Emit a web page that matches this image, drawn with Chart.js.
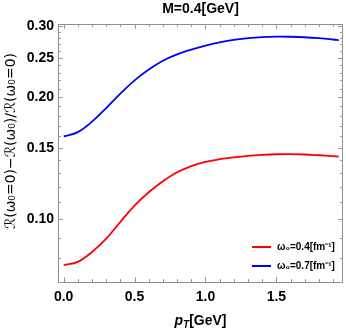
<!DOCTYPE html>
<html>
<head>
<meta charset="utf-8">
<script src="https://cdn.jsdelivr.net/npm/chart.js@4.4.1/dist/chart.umd.min.js"></script>
<style>
  html, body { margin: 0; padding: 0; background: #fff; }
  #wrap { width: 346px; height: 331px; }
</style>
</head>
<body>
<div id="wrap"><canvas id="ratioChart" width="346" height="331"></canvas></div>
<script>
// p_T values [GeV]
const pT = [0, 0.1, 0.2, 0.3, 0.4, 0.5, 0.6, 0.7, 0.8, 0.9, 1.0, 1.1, 1.2, 1.3, 1.4, 1.5, 1.6, 1.7, 1.8, 1.9, 1.94];
// omega0 = 0.4 fm^-1
const ratioW04 = [0.077, 0.0785, 0.083, 0.0895, 0.0985, 0.108, 0.1165, 0.124, 0.1305, 0.1352, 0.1385, 0.1406, 0.1421, 0.1433, 0.1441, 0.1446, 0.1447, 0.1444, 0.1438, 0.1431, 0.1427];
// omega0 = 0.7 fm^-1
const ratioW07 = [0.160, 0.164, 0.174, 0.188, 0.204, 0.220, 0.234, 0.246, 0.255, 0.262, 0.268, 0.273, 0.277, 0.2795, 0.2812, 0.282, 0.2818, 0.281, 0.2795, 0.2775, 0.2765];

const xTicks = [0, 0.5, 1.0, 1.5];
const yTicks = [0.10, 0.15, 0.20, 0.25, 0.30];
const xMinorTicks = [0.1, 0.2, 0.3, 0.4, 0.6, 0.7, 0.8, 0.9, 1.1, 1.2, 1.3, 1.4, 1.6, 1.7, 1.8, 1.9];
const yMinorTicks = [0.07, 0.08, 0.09, 0.11, 0.12, 0.13, 0.14, 0.16, 0.17, 0.18, 0.19, 0.21, 0.22, 0.23, 0.24, 0.26, 0.27, 0.28, 0.29];

const seriesLabels = ['ω₀=0.4[fm⁻¹]', 'ω₀=0.7[fm⁻¹]'];

const FONT = '"Liberation Sans", Arial, sans-serif';
const frameColor = '#8c8c8c';

// frame, inward ticks, legend, titles (Mathematica-like)
const framePlugin = {
    id: 'frame',
    afterDatasetsDraw(chart) {
        const { ctx, chartArea: a, scales } = chart;
        ctx.save();
        ctx.strokeStyle = frameColor;
        ctx.lineWidth = 1;
        ctx.strokeRect(a.left + 0.5, a.top + 0.5, a.right - a.left - 1, a.bottom - a.top);

        const tickX = (v, len) => {
            const px = Math.round(scales.x.getPixelForValue(v)) + 0.5;
            ctx.beginPath();
            ctx.moveTo(px, a.bottom); ctx.lineTo(px, a.bottom - len);
            ctx.moveTo(px, a.top); ctx.lineTo(px, a.top + len);
            ctx.stroke();
        };
        const tickY = (v, len) => {
            const py = Math.round(scales.y.getPixelForValue(v)) + 0.5;
            ctx.beginPath();
            ctx.moveTo(a.left, py); ctx.lineTo(a.left + len, py);
            ctx.moveTo(a.right, py); ctx.lineTo(a.right - len, py);
            ctx.stroke();
        };
        ctx.strokeStyle = '#999';
        xTicks.forEach(v => tickX(v, 5));
        xMinorTicks.forEach(v => tickX(v, 3));
        yTicks.forEach(v => tickY(v, 5));
        yMinorTicks.forEach(v => tickY(v, 3));

        // legend
        const lx = 252, ly = 247;
        chart.data.datasets.forEach((ds, i) => {
            const y = ly + i * 19;
            ctx.strokeStyle = ds.borderColor;
            ctx.lineWidth = 2;
            ctx.beginPath();
            ctx.moveTo(lx, y); ctx.lineTo(lx + 19, y);
            ctx.stroke();
            ctx.fillStyle = '#000';
            ctx.textBaseline = 'middle';
            ctx.textAlign = 'left';
            ctx.font = 'bold 10px ' + FONT;
            ctx.fillText(ds.label, lx + 25, y);
        });

        // title
        ctx.fillStyle = '#000';
        ctx.textAlign = 'center';
        ctx.textBaseline = 'middle';
        ctx.font = 'bold 14px ' + FONT;
        ctx.fillText('M=0.4[GeV]', (a.left + a.right) / 2, 9);

        // x axis title p_T[GeV]
        const cx = (a.left + a.right) / 2;
        const cy = 321;
        ctx.font = 'bold italic 14px ' + FONT;
        const wp = ctx.measureText('p').width;
        ctx.font = 'bold italic 10px ' + FONT;
        const wt = ctx.measureText('T').width;
        ctx.font = 'bold 14px ' + FONT;
        const wg = ctx.measureText('[GeV]').width;
        let x0 = cx - (wp + wt + wg) / 2;
        ctx.textAlign = 'left';
        ctx.textBaseline = 'alphabetic';
        ctx.font = 'bold italic 14px ' + FONT;
        ctx.fillText('p', x0, cy + 4);
        ctx.font = 'bold italic 10px ' + FONT;
        ctx.fillText('T', x0 + wp, cy + 7);
        ctx.font = 'bold 14px ' + FONT;
        ctx.fillText('[GeV]', x0 + wp + wt, cy + 4);

        // y axis title
        ctx.save();
        ctx.translate(11, 141);
        ctx.rotate(-Math.PI / 2);
        ctx.textAlign = 'center';
        ctx.textBaseline = 'middle';
        ctx.font = '14px "DejaVu Sans", ' + FONT;
        ctx.fillText('ℛ(ω₀=0)−ℛ(ω₀)/ℛ(ω₀=0)', 0, 0);
        ctx.restore();

        ctx.restore();
    }
};

const ctx = document.getElementById('ratioChart').getContext('2d');
new Chart(ctx, {
    type: 'line',
    data: {
        datasets: [
            {
                label: seriesLabels[0],
                data: pT.map((x, i) => ({ x: x, y: ratioW04[i] })),
                borderColor: '#ff0000',
                borderWidth: 1.8,
                pointRadius: 0,
                tension: 0.4,
                fill: false
            },
            {
                label: seriesLabels[1],
                data: pT.map((x, i) => ({ x: x, y: ratioW07[i] })),
                borderColor: '#0000ff',
                borderWidth: 1.8,
                pointRadius: 0,
                tension: 0.4,
                fill: false
            }
        ]
    },
    options: {
        responsive: false,
        animation: false,
        layout: { padding: { top: 24, right: 3, bottom: 0, left: 0 } },
        plugins: {
            legend: { display: false },
            tooltip: { enabled: false },
            title: { display: false }
        },
        scales: {
            x: {
                type: 'linear',
                min: -0.04,
                max: 1.97,
                afterBuildTicks: scale => { scale.ticks = xTicks.map(v => ({ value: v })); },
                afterFit: scale => { scale.height = 49; },
                grid: { display: false, drawTicks: false },
                border: { display: false },
                ticks: {
                    padding: 7,
                    color: '#000',
                    font: { family: FONT, size: 14, weight: 'bold' },
                    callback: v => Number(v).toFixed(1)
                }
            },
            y: {
                type: 'logarithmic',
                min: 0.07,
                max: 0.303,
                afterBuildTicks: scale => { scale.ticks = yTicks.map(v => ({ value: v })); },
                afterFit: scale => { scale.width = 58; },
                grid: { display: false, drawTicks: false },
                border: { display: false },
                ticks: {
                    padding: 4,
                    color: '#000',
                    font: { family: FONT, size: 14, weight: 'bold' },
                    callback: v => Number(v).toFixed(2)
                }
            }
        }
    },
    plugins: [framePlugin]
});
</script>
</body>
</html>
